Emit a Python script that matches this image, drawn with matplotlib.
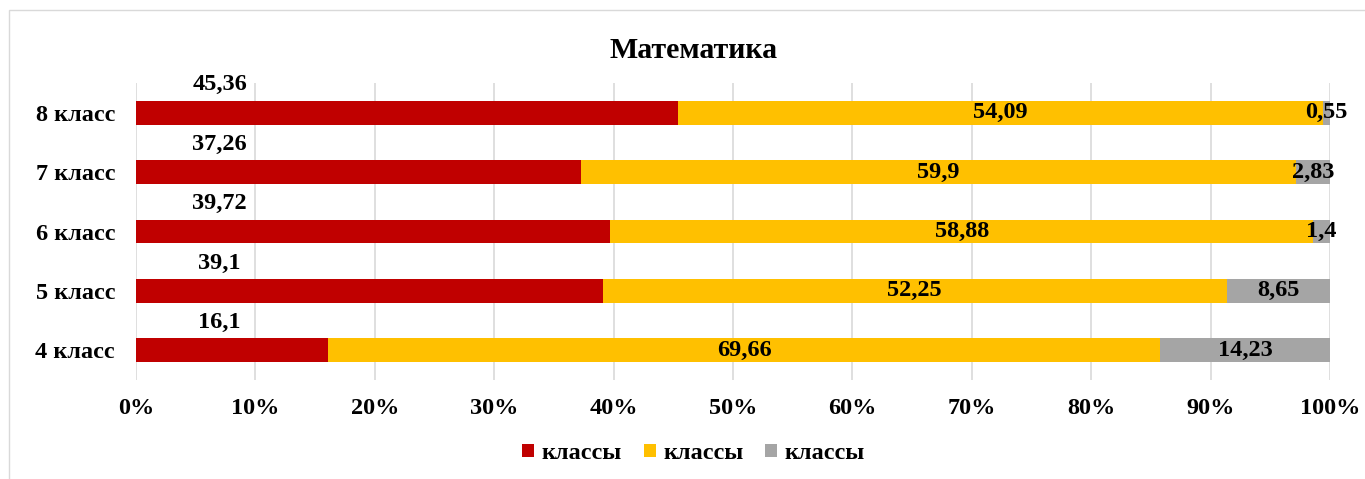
import numpy as np
import matplotlib.pyplot as plt
from matplotlib.patches import Rectangle

plt.rcParams['font.family'] = ['Liberation Serif', 'DejaVu Serif']
plt.rcParams['font.weight'] = 'bold'

classes = ['4 класс', '5 класс', '6 класс', '7 класс', '8 класс']
red_vals = [16.1, 39.1, 39.72, 37.26, 45.36]
yellow_vals = [69.66, 52.25, 58.88, 59.9, 54.09]
grey_vals = [14.23, 8.65, 1.4, 2.83, 0.55]
red_labels = ['16,1', '39,1', '39,72', '37,26', '45,36']
yellow_labels = ['69,66', '52,25', '58,88', '59,9', '54,09']
grey_labels = ['14,23', '8,65', '1,4', '2,83', '0,55']
legend_names = ['классы', 'классы', 'классы']
colors = ['#C00000', '#FFC000', '#A5A5A5']

fig = plt.figure(figsize=(13.65, 4.79), dpi=100)
ax = fig.add_axes([0.0996, 0.2067, 0.8748, 0.62])

# chart area frame
fig.patches.append(Rectangle((9 / 1365, -0.1), 1.2, 1 - 10 / 479 + 0.1,
                             transform=fig.transFigure, fill=False,
                             edgecolor='#D9D9D9', lw=1))

y = np.arange(len(classes))
red = np.array(red_vals)
yel = np.array(yellow_vals)
gry = np.array(grey_vals)
h = 0.4
b1 = ax.barh(y, red, height=h, color=colors[0], label=legend_names[0], zorder=3)
b2 = ax.barh(y, yel, left=red, height=h, color=colors[1], label=legend_names[1], zorder=3)
b3 = ax.barh(y, gry, left=red + yel, height=h, color=colors[2], label=legend_names[2], zorder=3)

fs = 17.5
for i in range(len(classes)):
    ax.text(7, y[i] + 0.47, red_labels[i], ha='center', va='center',
            fontsize=fs, fontweight='bold', zorder=4)
    ax.text(red[i] + yel[i] / 2, y[i], yellow_labels[i], ha='center', va='center',
            fontsize=fs, fontweight='bold', zorder=4)
    ax.text(red[i] + yel[i] + gry[i] / 2, y[i], grey_labels[i], ha='center', va='center',
            fontsize=fs, fontweight='bold', zorder=4)

ax.set_xlim(0, 100)
ax.set_ylim(-0.5, 4.5)
ax.set_yticks(y)
ax.set_yticklabels(classes, fontsize=fs, fontweight='bold')
ax.set_xticks(np.arange(0, 101, 10))
ax.set_xticklabels([f'{v}%' for v in range(0, 101, 10)], fontsize=fs, fontweight='bold')
ax.tick_params(length=0)
ax.tick_params(axis='x', pad=13)
ax.tick_params(axis='y', pad=15)
ax.grid(axis='x', color='#D9D9D9', lw=1.2, zorder=0)
for s in ax.spines.values():
    s.set_visible(False)

fig.text(0.508, 0.894, 'Математика', ha='center', va='center', fontsize=21.5, fontweight='bold')

leg = fig.legend(handles=[b1, b2, b3], loc='center', bbox_to_anchor=(0.508, 0.053),
                 ncol=3, frameon=False, handlelength=0.5, handleheight=0.5,
                 handletextpad=0.3, columnspacing=0.9, prop={'weight': 'bold', 'size': fs})

fig.savefig('out.png', dpi=100)
